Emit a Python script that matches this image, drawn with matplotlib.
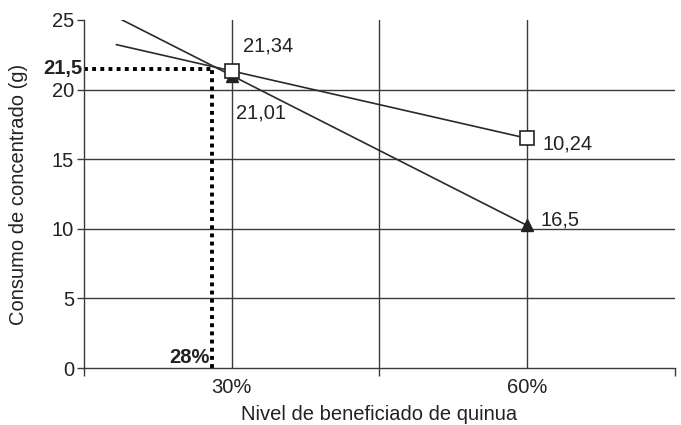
import matplotlib
matplotlib.use('Agg')
import matplotlib.pyplot as plt
import numpy as np

plt.rcParams['font.family'] = ['Liberation Sans', 'DejaVu Sans']

# datos
nivel = [30, 60]                      # nivel de beneficiado (%)
cuadrado = [21.34, 16.5]              # serie con cuadrados
triangulo = [21.01, 10.24]            # serie con triangulos
etiq_cuadrado = ['21,34', '10,24']
etiq_triangulo = ['21,01', '16,5']
inicio_recta = 18.3                   # las rectas se prolongan hacia la izquierda
corte_x, corte_y = 28, 21.5           # punto de corte
y_ticks = [0, 5, 10, 15, 20, 25]
y_grid = [5, 10, 15, 20]
x_grid = [30, 45, 60]
x_lim = (15, 75)

TXT = '#222222'
LINE = '#2a2a2a'
FS = 14.5

fig = plt.figure(figsize=(6.81, 4.25), dpi=100)
ax = fig.add_axes([0.1233, 0.134, 0.8677, 0.819])

for y in y_grid:
    ax.axhline(y, color='#3a3a3a', lw=1.0, zorder=1)
for x in x_grid:
    ax.axvline(x, color='#3a3a3a', lw=1.0, zorder=1)


def recta(xs, ys):
    b = (ys[1] - ys[0]) / (xs[1] - xs[0])
    xx = np.array([inicio_recta, xs[1]])
    return xx, ys[0] + b * (xx - xs[0])


xx, yy = recta(nivel, triangulo)
ax.plot(xx, yy, color=LINE, lw=1.2, zorder=2)
xx, yy = recta(nivel, cuadrado)
ax.plot(xx, yy, color=LINE, lw=1.2, zorder=2)

ax.plot(nivel, triangulo, ls='none', marker='^', ms=9, mfc='#222222',
        mec='#222222', zorder=3)
ax.plot(nivel, cuadrado, ls='none', marker='s', ms=10, mfc='white',
        mec='#222222', mew=1.2, zorder=4)

# etiquetas de los puntos
offs_c = [(11, 25), (15, -6)]
offs_t = [(4, -37), (13, 5)]
for x, y, t, o in zip(nivel, cuadrado, etiq_cuadrado, offs_c):
    ax.annotate(t, (x, y), xytext=o, textcoords='offset pixels',
                ha='left', va='center', fontsize=FS, color=TXT)
for x, y, t, o in zip(nivel, triangulo, etiq_triangulo, offs_t):
    ax.annotate(t, (x, y), xytext=o, textcoords='offset pixels',
                ha='left', va='center', fontsize=FS, color=TXT)

# lineas punteadas del punto de corte
ax.plot([x_lim[0], corte_x], [corte_y, corte_y], color='black', lw=2.8,
        ls=(0, (1, 1.1)), zorder=2, clip_on=False)
ax.plot([corte_x, corte_x], [0, corte_y], color='black', lw=2.8,
        ls=(0, (1, 1.1)), zorder=2)
ax.annotate('21,5', (x_lim[0], corte_y), xytext=(-1, 0),
            textcoords='offset pixels', ha='right', va='center',
            fontsize=FS, fontweight='bold', color=TXT)
ax.annotate('28%', (corte_x, 0), xytext=(-2, 11),
            textcoords='offset pixels', ha='right', va='center',
            fontsize=FS, fontweight='bold', color=TXT)

ax.set_xlim(*x_lim)
ax.set_ylim(y_ticks[0], y_ticks[-1])
ax.set_yticks(y_ticks)
ax.set_yticklabels([str(v) for v in y_ticks])
ax.set_xticks([x_lim[0], 45, x_lim[1]])
ax.set_xticklabels([])
ax.set_xticks(nivel, minor=True)
ax.set_xticklabels([f'{v}%' for v in nivel], minor=True)
ax.tick_params(axis='y', direction='out', length=5, width=1, pad=2,
               labelsize=FS, labelcolor=TXT, color='#3a3a3a')
ax.tick_params(axis='x', which='major', direction='out', length=6, width=1,
               color='#3a3a3a')
ax.tick_params(axis='x', which='minor', length=0, pad=7, labelsize=FS,
               labelcolor=TXT)

for s in ['top', 'right']:
    ax.spines[s].set_visible(False)
for s in ['left', 'bottom']:
    ax.spines[s].set_color('#3a3a3a')
    ax.spines[s].set_linewidth(1.0)

ax.set_xlabel('Nivel de beneficiado de quinua', fontsize=FS, color=TXT,
              labelpad=6)
ax.set_ylabel('Consumo de concentrado (g)', fontsize=FS, color=TXT,
              labelpad=17)

fig.savefig('out.png', dpi=100, facecolor='white')
